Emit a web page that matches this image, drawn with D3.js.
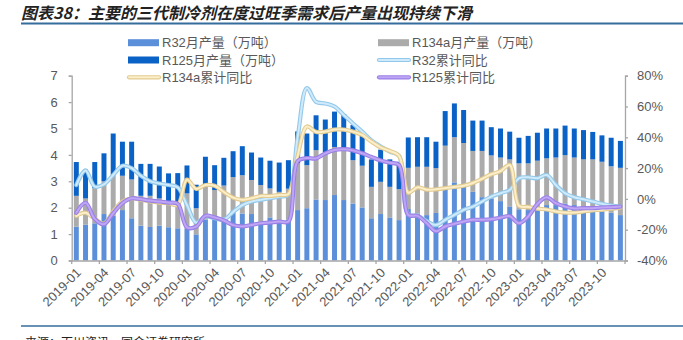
<!DOCTYPE html>
<html><head><meta charset="utf-8">
<script src="https://cdn.jsdelivr.net/npm/d3@7"></script>
<style>
html,body{margin:0;padding:0;background:#fff;}
svg{display:block;}
</style>
</head><body>
<svg id="c" width="683" height="340"></svg>
<script>
// ---- data ----
const months = [];
for (let y = 2019; y <= 2023; y++) for (let m = 1; m <= 12; m++) months.push(y + "-" + String(m).padStart(2, "0"));

const r32 = [1.28,1.36,1.41,1.76,1.70,1.91,1.60,1.32,1.27,1.32,1.26,1.22,
             1.20,0.99,1.55,1.55,1.63,1.88,1.78,1.76,1.47,1.63,1.53,1.55,
             1.91,1.98,2.31,2.29,2.48,2.29,2.16,2.01,1.60,1.76,1.63,1.53,
             1.95,1.78,1.72,1.80,2.77,2.96,2.80,2.60,2.40,2.35,2.25,2.05,
             1.94,1.91,1.91,2.10,2.10,2.16,2.10,1.91,1.91,1.85,1.81,1.72];
const r134a = [1.17,0.99,1.33,1.24,1.55,1.30,1.47,1.13,1.18,1.03,0.96,0.94,
               1.34,0.99,1.33,1.12,1.21,1.28,1.45,1.29,1.39,1.10,1.07,1.17,
               1.77,1.63,1.87,1.81,1.82,1.91,1.64,1.58,1.19,1.22,1.16,1.17,
               1.56,1.77,1.83,1.70,1.58,1.71,1.65,1.55,1.75,1.63,1.65,1.78,
               1.74,1.77,1.87,1.77,1.80,1.83,1.80,1.92,1.92,1.89,1.76,1.79];
const r125 = [1.28,1.09,0.99,1.06,1.56,1.29,1.43,1.21,1.21,1.21,1.08,1.15,
              1.06,0.89,1.05,0.94,1.05,0.98,1.10,1.04,1.04,1.05,1.11,1.08,
              1.21,1.20,1.32,1.24,1.34,1.35,1.33,1.28,1.04,1.22,1.04,1.04,
              1.15,1.12,1.12,1.00,1.31,1.28,1.25,1.15,1.15,1.07,1.10,1.05,
              0.97,1.04,1.06,1.13,1.10,1.12,1.10,1.11,1.04,1.00,1.08,1.02];
const r32Yoy = [9,18.5,8,9.5,15.5,21.5,20,15,11.5,10,9,7.5,
                -4,-15.5,-11.5,-12.5,-13.5,-8.5,-4,-1.7,-0.6,0.4,1.5,2.6,
                40,72,63,62,60,54.5,49,43.7,38,34,30.7,28,
                -10,-11,-14.5,-17,-13.6,-10.4,-7.1,-5,-1.7,1.5,3.7,5.8,
                13.4,14,13.4,15.5,9,3.7,1.1,-0.2,-1.7,-3.2,-4.3,-5];
const r134aYoy = [-11,-9,-13,-16,-8.2,-1.7,0.4,-0.6,-1.7,-2.4,-2.8,-3.9,
                  12.5,6.5,9,8.5,4.5,0.8,-0.6,0.4,1.9,1.9,2.6,3.2,
                  28,47,43.5,43.7,45,45,43.7,41.5,37.2,33.5,31.1,27.9,
                  4,7.5,6,6.2,7,7.8,8.5,10.3,13,16,18,22,
                  -4.5,-5.2,-6.3,-6.9,-8.2,-8.9,-8.9,-8.2,-7.4,-7,-6.4,-5.7];
const r125Yoy = [-9,-2.5,-13,-16.5,-9.3,-2.8,0.4,-0.2,-1.1,-1.7,-2.4,-3.2,
                 -18.5,-18,-11,-12,-14,-17,-17.9,-16.9,-15.8,-15.4,-14.7,-14.7,
                 24.5,26.5,26.3,29.6,31.8,32.3,31.5,29.6,27.2,25,23.5,22,
                 -10.4,-11,-15.8,-21,-17.9,-16.2,-14.7,-13.6,-13.6,-13.2,-12.2,-11.2,
                 -15.8,-11.5,-3.3,1,-2.8,-5,-6.2,-6,-6,-5.6,-5.4,-5];
const leftTicks = [0,1,2,3,4,5,6,7];
const rightTicks = [-40,-20,0,20,40,60,80];
const xTickLabels = months.filter((d, i) => i % 3 === 0);

const barSeries = [
  {name: "R32月产量（万吨）", values: r32, color: "#5b8fd9"},
  {name: "R134a月产量（万吨）", values: r134a, color: "#ababab"},
  {name: "R125月产量（万吨）", values: r125, color: "#0b62c6"}
];
const lineSeries = [
  {name: "R32累计同比", values: r32Yoy, edge: "#92c8ea", fill: "#cfeafa"},
  {name: "R134a累计同比", values: r134aYoy, edge: "#e2cb90", fill: "#fbeec8"},
  {name: "R125累计同比", values: r125Yoy, edge: "#9a7fe6", fill: "#bea6f5"}
];

// ---- layout ----
const svg = d3.select("#c");
const L = 71.7, R = 625, T = 75.7, B = 260.5;
const latin = "'Liberation Sans', Arial, 'Noto Sans CJK SC', sans-serif";
const axisColor = "#a6a6a6", textColor = "#595959";

const x = d3.scaleBand().domain(months).range([L, R]).paddingInner(0.46).paddingOuter(0.23);
const yL = d3.scaleLinear().domain([0, 7]).range([B, T]);
const yR = d3.scaleLinear().domain([-40, 80]).range([B, T]);

// title
svg.append("text").attr("x", 21).attr("y", 19)
  .attr("font-family", "'Noto Sans CJK SC', sans-serif").attr("font-size", 16)
  .attr("font-weight", "bold").attr("font-style", "italic").attr("fill", "#222")
  .text("图表38：主要的三代制冷剂在度过旺季需求后产量出现持续下滑");
svg.append("line").attr("x1", 21).attr("x2", 683).attr("y1", 23.5).attr("y2", 23.5)
  .attr("stroke", "#356d9c").attr("stroke-width", 2);

// bottom rule + source
svg.append("line").attr("x1", 21).attr("x2", 683).attr("y1", 326).attr("y2", 326)
  .attr("stroke", "#356d9c").attr("stroke-width", 1.5);
svg.append("text").attr("x", 25).attr("y", 347)
  .attr("font-family", "'Noto Sans CJK SC', sans-serif").attr("font-size", 12).attr("fill", "#222")
  .text("来源：百川资讯，国金证券研究所");

// stacked bars
const stackData = months.map((m, i) => ({m, a: r32[i], b: r134a[i], c: r125[i]}));
const stack = d3.stack().keys(["a", "b", "c"])(stackData);
stack.forEach((layer, k) => {
  svg.append("g").selectAll("rect").data(layer).join("rect")
    .attr("x", d => x(d.data.m)).attr("width", x.bandwidth())
    .attr("y", d => yL(d[1])).attr("height", d => yL(d[0]) - yL(d[1]))
    .attr("fill", barSeries[k].color);
});

// lines
const lineGen = vals => d3.line()
  .x((d, i) => x(months[i]) + x.bandwidth() / 2)
  .y(d => yR(d))
  .curve(d3.curveCatmullRom.alpha(0.5))(vals);
lineSeries.forEach(s => {
  const dStr = lineGen(s.values);
  svg.append("path").attr("d", dStr).attr("fill", "none").attr("stroke", s.edge)
    .attr("stroke-width", 4.2).attr("stroke-linejoin", "round").attr("stroke-linecap", "round");
  svg.append("path").attr("d", dStr).attr("fill", "none").attr("stroke", s.fill)
    .attr("stroke-width", 2).attr("stroke-linejoin", "round").attr("stroke-linecap", "round");
});

// axes
const gL = svg.append("g").attr("transform", `translate(${L},0)`)
  .call(d3.axisLeft(yL).tickValues(leftTicks).tickSize(3).tickPadding(11).tickFormat(d3.format("d")));
const gR = svg.append("g").attr("transform", `translate(${R},0)`)
  .call(d3.axisRight(yR).tickValues(rightTicks).tickSize(3).tickPadding(9).tickFormat(d => d + "%"));
const gB = svg.append("g").attr("transform", `translate(0,${B})`)
  .call(d3.axisBottom(x).tickValues(xTickLabels).tickSize(0).tickPadding(0));
[gL, gR, gB].forEach(g => {
  g.select(".domain").attr("stroke", axisColor).attr("stroke-width", 1.3);
  g.selectAll(".tick line").attr("stroke", axisColor).attr("stroke-width", 1.3);
  g.selectAll("text").attr("fill", textColor).attr("font-family", latin).attr("font-size", 13);
});
gB.selectAll(".tick text")
  .attr("text-anchor", "end").attr("dy", 0).attr("y", 0)
  .attr("transform", `translate(${x.bandwidth() / 2 + 3},13) rotate(-45)`);
// tick marks at band boundaries, every 3 months
const step = x.step();
const boundaries = xTickLabels.map(m => x(m) - step * 0.23).concat([R]);
svg.append("g").selectAll("line").data(boundaries).join("line")
  .attr("x1", d => d).attr("x2", d => d).attr("y1", B).attr("y2", B + 3.5)
  .attr("stroke", axisColor).attr("stroke-width", 1.3);

// legend
const leg = svg.append("g").attr("font-family", latin).attr("font-size", 13).attr("fill", textColor);
const legItems = [
  {col: 0, row: 0, type: "bar", s: barSeries[0]},
  {col: 1, row: 0, type: "bar", s: barSeries[1]},
  {col: 0, row: 1, type: "bar", s: barSeries[2]},
  {col: 1, row: 1, type: "line", s: lineSeries[0]},
  {col: 0, row: 2, type: "line", s: lineSeries[1]},
  {col: 1, row: 2, type: "line", s: lineSeries[2]}
];
const colX = [128, 378], rowY = [42.7, 60, 77.3];
legItems.forEach(it => {
  const x0 = colX[it.col], y0 = rowY[it.row];
  if (it.type === "bar") {
    leg.append("rect").attr("x", x0).attr("y", y0 - 3.5).attr("width", 31).attr("height", 7).attr("fill", it.s.color);
  } else {
    leg.append("line").attr("x1", x0 + 1).attr("x2", x0 + 31).attr("y1", y0).attr("y2", y0)
      .attr("stroke", it.s.edge).attr("stroke-width", 4.2).attr("stroke-linecap", "round");
    leg.append("line").attr("x1", x0 + 1).attr("x2", x0 + 31).attr("y1", y0).attr("y2", y0)
      .attr("stroke", it.s.fill).attr("stroke-width", 2).attr("stroke-linecap", "round");
  }
  leg.append("text").attr("x", x0 + 34).attr("y", y0).attr("dy", "0.36em").text(it.s.name);
});
</script>
</body></html>
